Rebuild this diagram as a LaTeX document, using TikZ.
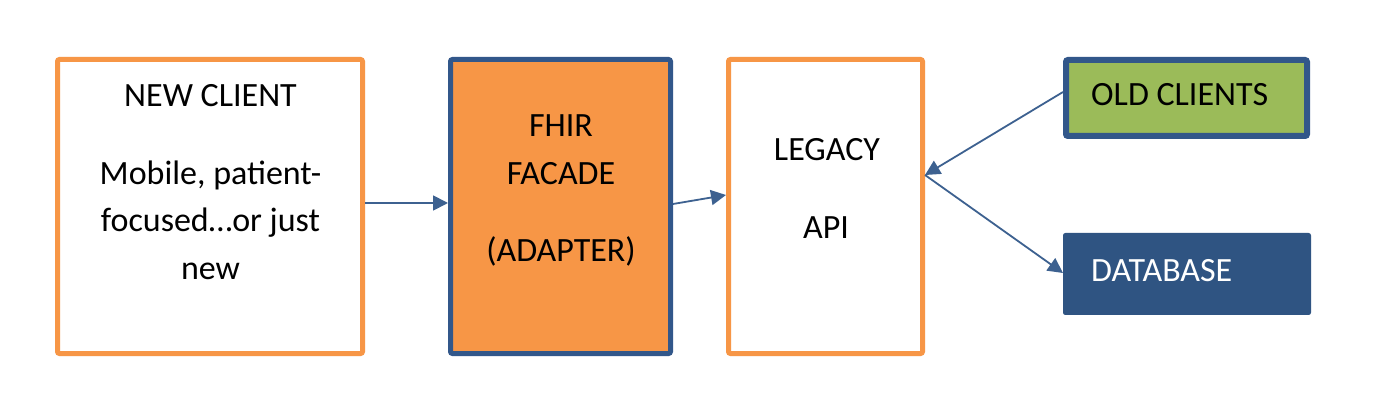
\documentclass[tikz,border=0pt]{standalone}
\usepackage{fontspec}
\setmainfont{Carlito}
\usetikzlibrary{arrows.meta}
\definecolor{orng}{HTML}{F79646}
\definecolor{dblue}{HTML}{32578A}
\definecolor{grn}{HTML}{9BBB59}
\definecolor{dbfill}{HTML}{2F5482}
\definecolor{arr}{HTML}{3D6190}
\tikzset{
  box/.style={rectangle, inner sep=0pt, rounded corners=2pt},
  whitebox/.style={box, draw=orng, line width=5pt, fill=white},
  txt/.style={anchor=base, inner sep=0pt, font=\fontsize{34}{40}\selectfont},
  ltxt/.style={anchor=base west, inner sep=0pt, font=\fontsize{34}{40}\selectfont},
  conn/.style={draw=arr, line width=1.8pt, -{Triangle[length=15pt,width=15pt]}}
}
\begin{document}
\begin{tikzpicture}[x=1pt,y=-1pt]
\useasboundingbox (0,0) rectangle (1400,403);
\fill[white] (0,0) rectangle (1400,403);
% boxes
\node[whitebox, minimum width=305pt, minimum height=294pt] (client) at (210,206.5) {};
\node[box, draw=dblue, fill=orng, line width=5pt, minimum width=220pt, minimum height=294pt] (fhir) at (560.5,206.5) {};
\node[whitebox, minimum width=194pt, minimum height=294pt] (legacy) at (825.5,206.5) {};
\node[box, draw=dblue, fill=grn, line width=6pt, minimum width=241pt, minimum height=76pt] (old) at (1186.5,98) {};
\node[box, draw=dbfill, fill=dbfill, line width=1pt, minimum width=247pt, minimum height=81pt] (db) at (1187,274) {};
% texts
\node[txt] (c1) at (210.5,107) {NEW CLIENT};
\node[txt] (c2) at (210.5,185) {Mobile, patient-};
\node[txt] (c3) at (210.5,232) {focused…or just};
\node[txt] (c4) at (210.5,280) {new};
\node[txt] (f1) at (561,137) {FHIR};
\node[txt] (f2) at (561,185) {FACADE};
\node[txt] (f3) at (561,262) {(ADAPTER)};
\node[txt] (l1) at (827,161) {LEGACY};
\node[txt] (l2) at (826,239) {API};
\node[ltxt] (o1) at (1091,106) {OLD CLIENTS};
\node[ltxt, text=white] (d1) at (1091,282) {DATABASE};
% connectors
\draw[conn] ([yshift=3.5pt]client.east) -- ([yshift=3.5pt]fhir.west);
\draw[conn] ([yshift=2.5pt]fhir.east) -- ([yshift=11.5pt]legacy.west);
\draw[conn] ([yshift=6pt]old.west) -- ([yshift=31.5pt]legacy.east);
\draw[conn] ([yshift=31.5pt]legacy.east) -- ([yshift=1pt]db.west);
\end{tikzpicture}
\end{document}
